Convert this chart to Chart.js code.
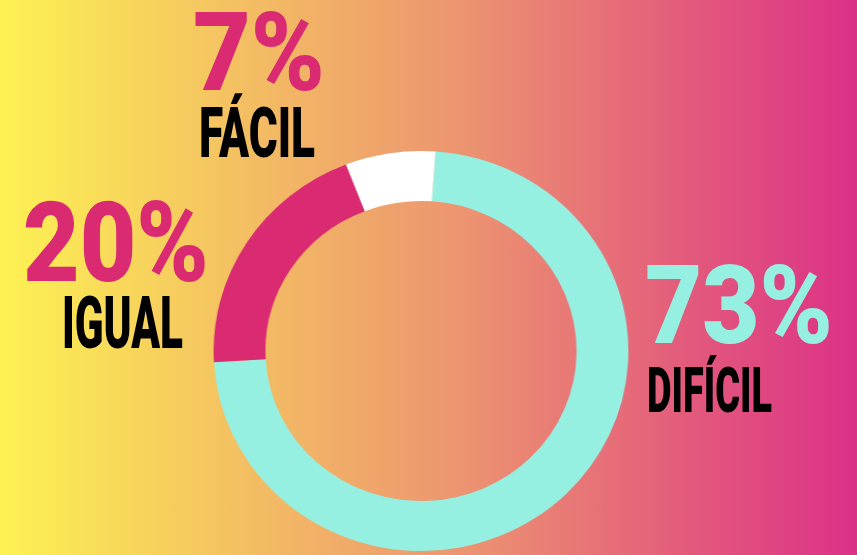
<!DOCTYPE html>
<html>
<head>
<meta charset="utf-8">
<script src="https://cdn.jsdelivr.net/npm/chart.js@4.4.0/dist/chart.umd.min.js"></script>
<style>
  html, body { margin: 0; padding: 0; }
  body {
    width: 857px; height: 555px; overflow: hidden; position: relative;
    background: linear-gradient(to right, #fdf253 0%, #f3bc63 30%, #ec9271 55%, #e35b7c 80%, #db3087 100%);
    font-family: Roboto, "Noto Sans", sans-serif;
  }
  #ring {
    position: absolute; left: 221px; top: 151px; width: 400px; height: 400px;
    transform: scaleX(1.037); transform-origin: center;
  }
  .lbl {
    position: absolute; white-space: nowrap; line-height: 1;
    font-weight: 900; transform-origin: left top;
  }
</style>
</head>
<body>
<div id="ring"><canvas id="donut" width="400" height="400"></canvas></div>

<script>
const categories = ['DIFÍCIL', 'IGUAL', 'FÁCIL'];
const percentages = [73, 20, 7];
const sliceColors = ['#96f0e1', '#da2a71', '#ffffff'];
const valueColors = ['#96f0e1', '#da2a71', '#da2a71'];

// where each value / name sits: left, cap top, cap height, width
const valueBoxes = [[645, 265, 78, 188], [23, 203, 79, 186], [193, 12, 78, 132]];
const nameBoxes = [[647, 367, 45, 125], [62, 297, 51, 121], [199, 107, 50, 116]];

const CAP = 0.711;      // Roboto cap height / em
const CAP_TOP = 0.131;  // cap top offset inside a line-height:1 box

const measure = document.createElement('canvas').getContext('2d');

function placeLabel(text, color, box) {
    const [left, top, cap, width] = box;
    const size = cap / CAP;
    const el = document.createElement('div');
    el.className = 'lbl';
    el.textContent = text;
    el.style.color = color;
    el.style.fontSize = size + 'px';
    el.style.left = left + 'px';
    el.style.top = (top - CAP_TOP * size) + 'px';
    measure.font = `900 ${size}px Roboto`;
    const w = measure.measureText(text).width;
    el.style.transform = `scaleX(${width / w})`;
    document.body.appendChild(el);
}

function initDonut() {
    const ctx = document.getElementById('donut').getContext('2d');
    new Chart(ctx, {
        type: 'doughnut',
        data: {
            labels: categories,
            datasets: [{
                data: percentages,
                backgroundColor: sliceColors,
                borderWidth: 0,
                hoverOffset: 0,
                offset: 0
            }]
        },
        options: {
            responsive: false,
            animation: false,
            cutout: '75%',
            rotation: 4,
            layout: { padding: 0 },
            plugins: {
                legend: { display: false },
                tooltip: { enabled: false }
            },
            events: []
        }
    });
}

document.addEventListener('DOMContentLoaded', () => {
    initDonut();
    percentages.forEach((v, i) => {
        placeLabel(v + '%', valueColors[i], valueBoxes[i]);
        placeLabel(categories[i], '#000000', nameBoxes[i]);
    });
});
</script>
</body>
</html>
